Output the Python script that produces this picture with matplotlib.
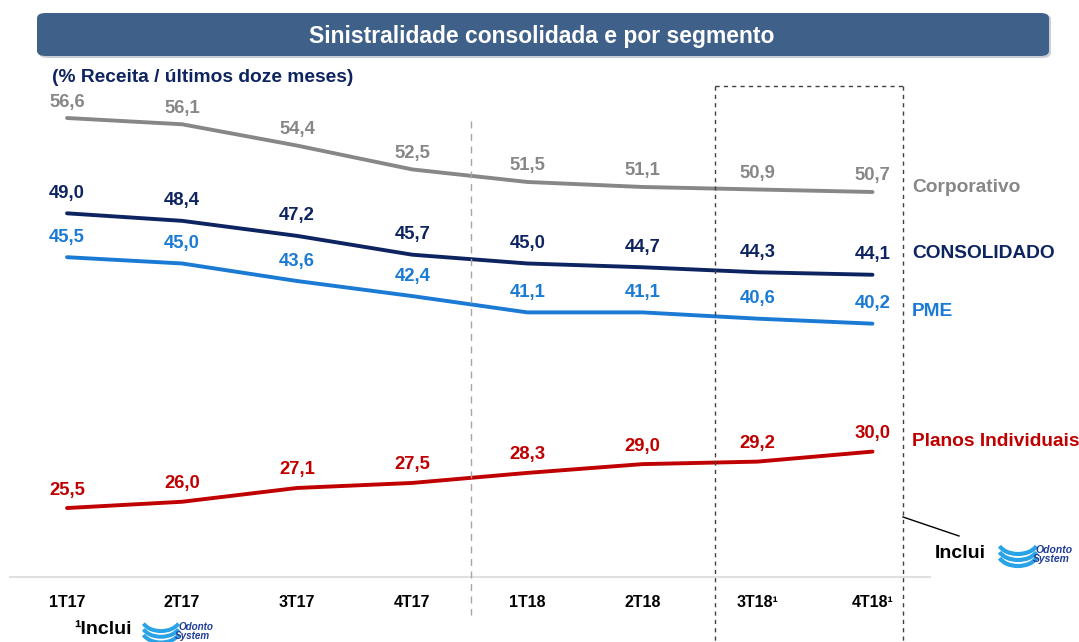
import matplotlib
matplotlib.use("Agg")
import matplotlib.pyplot as plt
from matplotlib.patches import FancyBboxPatch, Arc
from matplotlib.lines import Line2D

plt.rcParams['font.family'] = ['Liberation Sans', 'DejaVu Sans']

categories = ["1T17", "2T17", "3T17", "4T17", "1T18", "2T18", "3T18¹", "4T18¹"]
corporativo = [56.6, 56.1, 54.4, 52.5, 51.5, 51.1, 50.9, 50.7]
consolidado = [49.0, 48.4, 47.2, 45.7, 45.0, 44.7, 44.3, 44.1]
pme = [45.5, 45.0, 43.6, 42.4, 41.1, 41.1, 40.6, 40.2]
individuais = [25.5, 26.0, 27.1, 27.5, 28.3, 29.0, 29.2, 30.0]

series = [
    ("Corporativo", corporativo, "#878787", 16),
    ("CONSOLIDADO", consolidado, "#0E2461", 20),
    ("PME", pme, "#1A7AD4", 20),
    ("Planos Individuais", individuais, "#C00000", 18),
]

W, H = 1079, 642
fig = plt.figure(figsize=(W / 100, H / 100), dpi=100)

def fx(px):
    return px / W

def fy(py):
    return 1 - py / H

# Title banner
shadow = FancyBboxPatch((fx(39), fy(58)), fx(1012), (44) / H,
                        boxstyle="round,pad=0,rounding_size=0.008",
                        transform=fig.transFigure, facecolor="#C9CED6",
                        edgecolor="none", zorder=1)
fig.patches.append(shadow)
banner = FancyBboxPatch((fx(37), fy(56)), fx(1012), (43) / H,
                        boxstyle="round,pad=0,rounding_size=0.008",
                        transform=fig.transFigure, facecolor="#3F6189",
                        edgecolor="none", zorder=2)
fig.patches.append(banner)
fig.text(fx(542), fy(36), "Sinistralidade consolidada e por segmento",
         color="white", fontsize=16.5, fontweight="bold",
         ha="center", va="center", zorder=3)

fig.text(fx(52), fy(77), "(% Receita / últimos doze meses)", color="#0E2461",
         fontsize=13.8, fontweight="bold", ha="left", va="center")

# Main axes
ax_left, ax_right, ax_top, ax_bot = 9.5, 930, 85, 577
ax = fig.add_axes([fx(ax_left), fy(ax_bot), (ax_right - ax_left) / W,
                   (ax_bot - ax_top) / H])
ymin = 20.0
ymax = 56.6 + (118 - ax_top) / 12.54
ax.set_xlim(-0.5, 7.5)
ax.set_ylim(ymin, ymax)
ax.patch.set_alpha(0)
for s in ["top", "right", "left"]:
    ax.spines[s].set_visible(False)
ax.spines["bottom"].set_color("#E0E0E0")
ax.spines["bottom"].set_linewidth(1.5)
ax.set_yticks([])
x = list(range(len(categories)))
ax.set_xticks(x)
ax.set_xticklabels(categories, fontsize=11.5, fontweight="bold", color="black")
ax.tick_params(axis="x", length=0, pad=13)

for name, vals, color, off in series:
    ax.plot(x, vals, color=color, lw=2.8, solid_capstyle="round", zorder=3)
    for xi, v in zip(x, vals):
        ax.annotate(f"{v:.1f}".replace(".", ","), (xi, v), xytext=(0, off),
                    textcoords="offset pixels", ha="center", va="center",
                    fontsize=13.3, fontweight="bold", color=color)

# series names on the right
name_pos = {"Corporativo": 187, "CONSOLIDADO": 253, "PME": 311,
            "Planos Individuais": 442}
for name, vals, color, off in series:
    fig.text(fx(912), fy(name_pos[name]), name, color=color, fontsize=13.8,
             fontweight="bold", ha="left", va="center")

# dashed separator between 2017 and 2018
fig.add_artist(Line2D([fx(470.5), fx(470.5)], [fy(121), fy(615)],
                      transform=fig.transFigure, color="#A6A6A6", lw=1,
                      linestyle=(0, (5, 4))))

# dashed box around 3T18 and 4T18
bx0, bx1, by0, by1 = 715, 903, 86, 645
for xs, ys in [([bx0, bx1], [by0, by0]), ([bx0, bx0], [by0, by1]),
               ([bx1, bx1], [by0, by1])]:
    fig.add_artist(Line2D([fx(v) for v in xs], [fy(v) for v in ys],
                          transform=fig.transFigure, color="#404040", lw=1,
                          linestyle=(0, (3, 3))))

# connector
fig.add_artist(Line2D([fx(903), fx(959)], [fy(517), fy(536)],
                      transform=fig.transFigure, color="black", lw=1))


def logo(x0, y0, s=1.0):
    # stylized waves + text; x0,y0 = left / vertical centre in pixels
    for i in range(3):
        arc = Arc((fx(x0 + 20 * s), fy(y0 - 14 * s + i * 6 * s)),
                  (40 * s) / W, (26 * s) / H, theta1=205, theta2=335,
                  transform=fig.transFigure, color="#29A3E6",
                  lw=3.0 * s)
        fig.add_artist(arc)
    fig.text(fx(x0 + 38 * s), fy(y0 - 5 * s), "Odonto", color="#1F3D99",
             fontsize=7.5 * s, fontweight="bold", style="italic",
             ha="left", va="center")
    fig.text(fx(x0 + 35 * s), fy(y0 + 4 * s), "System", color="#1F3D99",
             fontsize=7.5 * s, fontweight="bold", style="italic",
             ha="left", va="center")


fig.text(fx(935), fy(553), "Inclui", color="black", fontsize=14,
         fontweight="bold", ha="left", va="center")
logo(998, 555, 1.0)

fig.text(fx(74), fy(630), "¹Inclui", color="black", fontsize=14,
         fontweight="bold", ha="left", va="center")
logo(142, 632, 0.95)

fig.savefig("out.png", dpi=100)
